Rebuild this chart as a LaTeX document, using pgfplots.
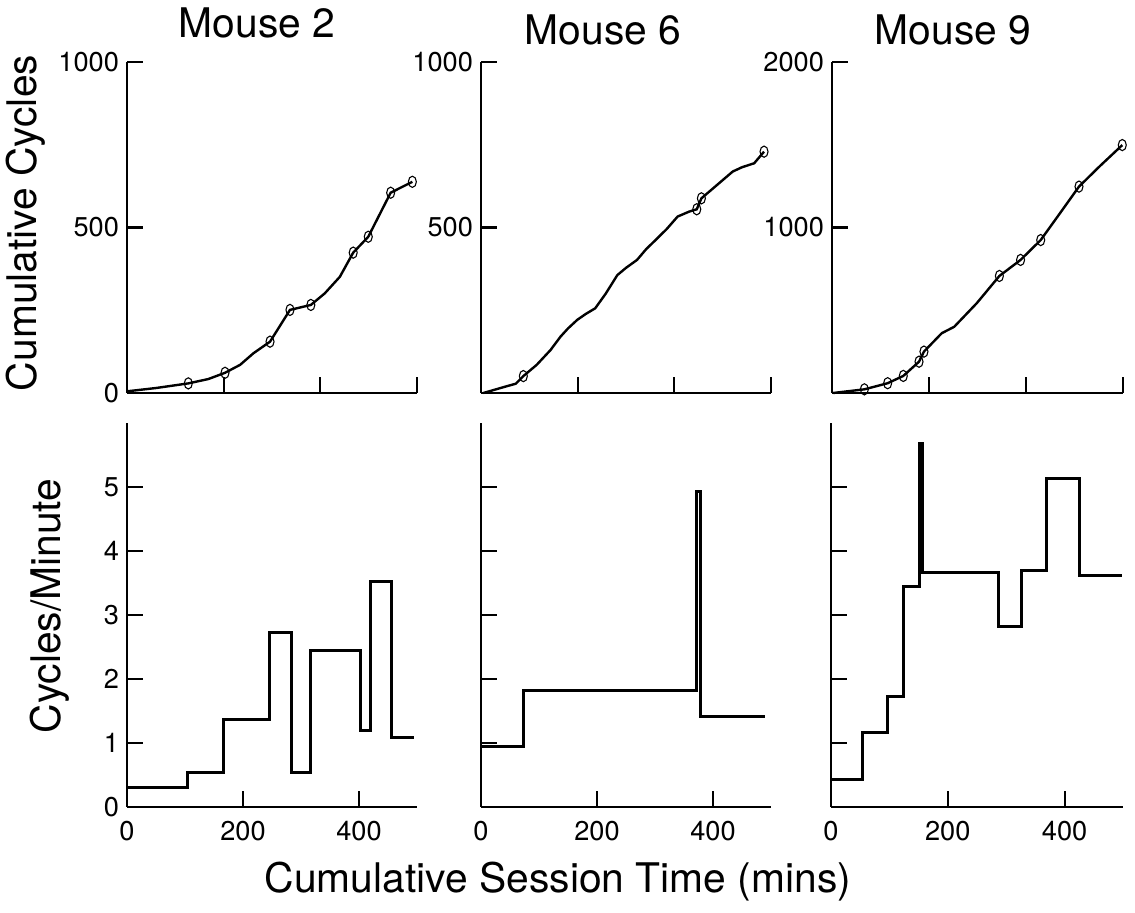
\documentclass[border=0pt]{standalone}
\usepackage{fontspec}
\setmainfont{TeX Gyre Heros}
\usepackage{pgfplots}
\pgfplotsset{compat=1.18}
\pgfplotsset{
  myax/.style={
    scale only axis, anchor=south west,
    axis x line=bottom, axis y line=left,
    axis line style={-, line width=1.1pt},
    tick align=inside, major tick length=8pt,
    tick style={line width=1.1pt, black},
    xmin=0, xmax=500,
    tick label style={font=\fontsize{13.6}{15}\selectfont},
    /pgf/number format/assume math mode=true,
    /pgf/number format/1000 sep={},
    yticklabel style={xshift=-0.5pt},
    xticklabel style={yshift=-3.5pt},
    clip=false,
  },
  topax/.style={myax, width=145pt, height=165.5pt, ymin=0,
    xtick={166.667,333.333,500}, xticklabels={}},
  botax/.style={myax, width=145pt, height=192pt, ymin=0, ymax=6,
    xtick={0,200,400}, ytick={0,1,2,3,4,5}},
  cum/.style={black, line width=1.2pt, no marks},
  mk/.style={black, only marks, mark=o, mark size=2pt, mark options={yscale=1.4, line width=0.55pt}},
  stp/.style={black, line width=1.5pt, const plot, no marks, line join=miter},
}
\begin{document}
\begin{tikzpicture}
\path[use as bounding box] (0,0) rectangle (567.5pt,456.5pt);

% ---------- Mouse 2 top ----------
\begin{axis}[topax, at={(63.5pt,260pt)}, ymax=1000, ytick={0,500,1000}]
\addplot[cum] coordinates {(0,5) (50,15) (105.7,29) (140,42) (169,61) (195,85) (218,120) (246.6,155) (281,251) (317,266) (341,301) (367,351) (390,424) (416,472) (454.6,605) (492,638)};
\addplot[mk] coordinates {(105.7,29) (169,61) (246.6,155) (281,251) (317,266) (390,424) (416,472) (454.6,605) (492,638)};
\end{axis}

% ---------- Mouse 6 top ----------
\begin{axis}[topax, at={(240.5pt,260pt)}, ymax=1000, ytick={0,500,1000}, yticklabels={,500,1000}]
\addplot[cum] coordinates {(4,0) (20,8) (41.5,19) (60,28) (73,51) (96,85) (120,130) (137,170) (150,195) (166,221) (180,238) (197,256) (215,300) (235,356) (250,378) (269,402) (285,435) (298,457) (320,495) (339,533) (359,548) (372,555) (380,588) (400,618) (420,648) (434,669) (450,682) (471,694) (488,729)};
\addplot[mk] coordinates {(73,51) (372,555) (380,588) (488,729)};
\end{axis}

% ---------- Mouse 9 top ----------
\begin{axis}[topax, at={(416pt,260pt)}, width=145.5pt, ymax=2000, ytick={0,1000,2000}, yticklabels={,1000,2000}]
\addplot[cum] coordinates {(2,0) (55.6,22) (95.6,59) (122.5,103) (149.5,189) (158,250) (188.5,361) (210,400) (248.6,542) (287.6,707) (324,804) (358.6,924) (391.7,1086) (424.4,1247) (460,1370) (498.8,1498)};
\addplot[mk] coordinates {(55.6,22) (95.6,59) (122.5,103) (149.5,189) (158,250) (287.6,707) (324,804) (358.6,924) (424.4,1247) (498.8,1498)};
\end{axis}

% ---------- Mouse 2 bottom ----------
\begin{axis}[botax, at={(63.5pt,53pt)}]
\addplot[stp] coordinates {(0,0.30) (104,0.54) (166,1.37) (245,2.73) (283,0.54) (317,2.44) (402,1.19) (419,3.53) (456,1.09) (494,1.09)};
\end{axis}

% ---------- Mouse 6 bottom ----------
\begin{axis}[botax, at={(240.5pt,53pt)}, yticklabels={}]
\addplot[stp] coordinates {(0,0.95) (74,1.82) (371,4.93) (379,1.41) (489,1.41)};
\end{axis}

% ---------- Mouse 9 bottom ----------
\begin{axis}[botax, at={(415.5pt,53pt)}, width=146pt, yticklabels={}]
\addplot[stp] coordinates {(0,0.43) (54,1.16) (96,1.73) (124,3.44) (151,5.68) (157,3.66) (287,2.82) (327,3.70) (369,5.14) (426,3.61) (499,3.61)};
\end{axis}

% ---------- titles and shared labels ----------
\node[font=\fontsize{20.4}{24}\selectfont, anchor=base] at (128.5pt,437.5pt) {Mouse 2};
\node[font=\fontsize{20.4}{24}\selectfont, anchor=base] at (301.5pt,434pt) {Mouse 6};
\node[font=\fontsize{20.4}{24}\selectfont, anchor=base] at (476.5pt,434pt) {Mouse 9};
\node[font=\fontsize{20.4}{24}\selectfont, rotate=90, anchor=base] at (18pt,345pt) {Cumulative Cycles};
\node[font=\fontsize{20.4}{24}\selectfont, rotate=90, anchor=base] at (30pt,153.5pt) {Cycles/Minute};
\node[font=\fontsize{20.4}{24}\selectfont, anchor=base] at (279pt,10pt) {Cumulative Session Time (mins)};
\end{tikzpicture}
\end{document}
